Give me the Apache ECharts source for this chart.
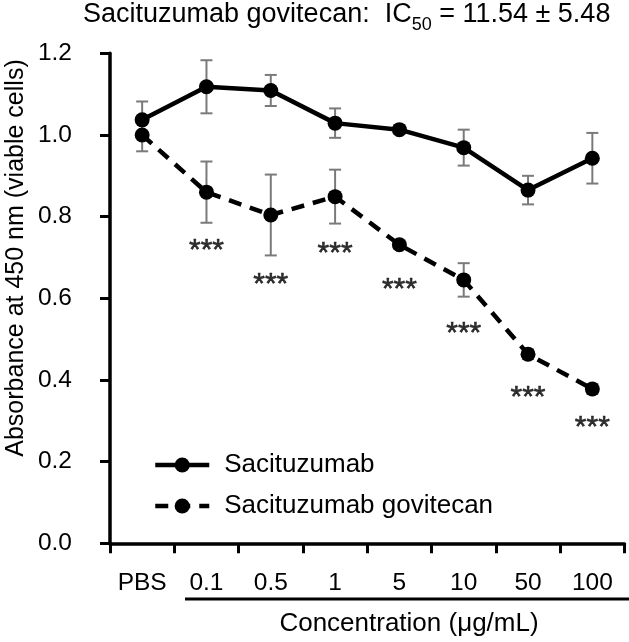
<!DOCTYPE html>
<html>
<head>
<meta charset="utf-8">
<script src="https://cdn.jsdelivr.net/npm/echarts@6/dist/echarts.min.js"></script>
<style>
html,body{margin:0;padding:0;background:#fff;}
#chart{width:629px;height:642px;}
</style>
</head>
<body>
<div id="chart"></div>
<script>
const categories = ['PBS', '0.1', '0.5', '1', '5', '10', '50', '100'];
const sacMean = [1.037, 1.118, 1.109, 1.029, 1.013, 0.969, 0.865, 0.943];
const sacErr  = [0.045, 0.065, 0.038, 0.036, 0.010, 0.044, 0.035, 0.062];
const sgMean  = [1.000, 0.860, 0.804, 0.849, 0.731, 0.645, 0.463, 0.378];
const sgErr   = [0.040, 0.075, 0.099, 0.066, 0.010, 0.041, 0.012, 0.012];
const starCats = ['0.1', '0.5', '1', '5', '10', '50', '100'];
const starY    = [0.733, 0.651, 0.726, 0.638, 0.530, 0.374, 0.300];

const FONT = '"Liberation Sans", Arial, Helvetica, sans-serif';

function errData(mean, err) {
  return mean.map((m, i) => [i, m - err[i], m + err[i]]);
}

function renderErr(params, api) {
  const x = api.value(0);
  const lo = api.coord([x, api.value(1)]);
  const hi = api.coord([x, api.value(2)]);
  const hw = 6;
  const style = { stroke: '#7a7a7a', lineWidth: 2 };
  return {
    type: 'group',
    children: [
      { type: 'line', shape: { x1: hi[0], y1: hi[1], x2: lo[0], y2: lo[1] }, style },
      { type: 'line', shape: { x1: hi[0] - hw, y1: hi[1], x2: hi[0] + hw, y2: hi[1] }, style },
      { type: 'line', shape: { x1: lo[0] - hw, y1: lo[1], x2: lo[0] + hw, y2: lo[1] }, style }
    ]
  };
}

const chart = echarts.init(document.getElementById('chart'), null, { renderer: 'canvas' });

const option = {
  backgroundColor: '#fff',
  animation: false,
  textStyle: { fontFamily: FONT },
  title: {
    left: 83,
    top: 1,
    padding: 0,
    text: '{a|Sacituzumab govitecan:  IC}{s|50}{a| = 11.54 ± 5.48}',
    textStyle: {
      fontWeight: 'normal',
      rich: {
        a: { fontFamily: FONT, fontSize: 27, fontWeight: 'normal', color: '#000', lineHeight: 28 },
        s: { fontFamily: FONT, fontSize: 18, fontWeight: 'normal', color: '#000', lineHeight: 18, padding: [20, 0, 0, 0] }
      }
    }
  },
  legend: {
    orient: 'vertical',
    left: 148,
    top: 445,
    itemWidth: 54,
    itemHeight: 19,
    itemGap: 11,
    data: ['Sacituzumab', 'Sacituzumab govitecan'],
    lineStyle: { width: 4.5 },
    textStyle: { fontFamily: FONT, fontSize: 26, color: '#000', padding: [0, 0, 0, 10], lineHeight: 30 }
  },
  grid: { left: 110, top: 53.3, width: 514.5, height: 490, containLabel: false },
  xAxis: {
    type: 'category',
    data: categories,
    boundaryGap: true,
    axisLine: { show: true, lineStyle: { color: '#000', width: 3.5 } },
    axisTick: { show: true, alignWithLabel: false, interval: 0, length: 10, lineStyle: { color: '#000', width: 3 } },
    axisLabel: { interval: 0, margin: 27, fontFamily: FONT, fontSize: 24.5, color: '#000' },
    splitLine: { show: false }
  },
  yAxis: {
    type: 'value',
    min: 0,
    max: 1.2,
    interval: 0.2,
    axisLine: { show: true, lineStyle: { color: '#000', width: 3.5 } },
    axisTick: { show: true, length: 10, lineStyle: { color: '#000', width: 3 } },
    axisLabel: { margin: 38, fontFamily: FONT, fontSize: 24.5, color: '#000', formatter: v => v.toFixed(1) },
    splitLine: { show: false }
  },
  series: [
    {
      type: 'custom',
      name: 'errSac',
      renderItem: renderErr,
      data: errData(sacMean, sacErr),
      z: 1,
      silent: true
    },
    {
      type: 'custom',
      name: 'errSG',
      renderItem: renderErr,
      data: errData(sgMean, sgErr),
      z: 1,
      silent: true
    },
    {
      type: 'line',
      name: 'Sacituzumab',
      data: sacMean,
      symbol: 'circle',
      symbolSize: 15,
      showAllSymbol: true,
      color: '#000',
      itemStyle: { color: '#000' },
      lineStyle: { color: '#000', width: 4.5 },
      z: 3
    },
    {
      type: 'line',
      name: 'Sacituzumab govitecan',
      data: sgMean,
      symbol: 'circle',
      symbolSize: 15,
      showAllSymbol: true,
      color: '#000',
      itemStyle: { color: '#000' },
      lineStyle: { color: '#000', width: 4.5, type: [13, 9] },
      z: 3
    },
    {
      type: 'scatter',
      name: 'stars',
      data: starCats.map((c, i) => [c, starY[i]]),
      symbolSize: 0,
      silent: true,
      label: {
        show: true,
        position: 'inside',
        formatter: '***',
        fontFamily: FONT,
        fontSize: 30,
        color: '#000',
        textBorderColor: '#000',
        textBorderWidth: 0.6,
        offset: [0, 7]
      },
      z: 4
    }
  ],
  graphic: [
    {
      type: 'text',
      x: 16,
      y: 258,
      rotation: Math.PI / 2,
      style: {
        text: 'Absorbance at 450 nm (viable cells)',
        font: '25px ' + FONT,
        fill: '#000',
        textAlign: 'center',
        textVerticalAlign: 'middle'
      }
    },
    {
      type: 'text',
      x: 409,
      y: 624,
      style: {
        text: 'Concentration (μg/mL)',
        font: '26px ' + FONT,
        fill: '#000',
        textAlign: 'center',
        textVerticalAlign: 'middle'
      }
    },
    {
      type: 'line',
      shape: { x1: 185, y1: 599, x2: 629, y2: 599 },
      style: { stroke: '#000', lineWidth: 3 }
    }
  ]
};

chart.setOption(option);
</script>
</body>
</html>
